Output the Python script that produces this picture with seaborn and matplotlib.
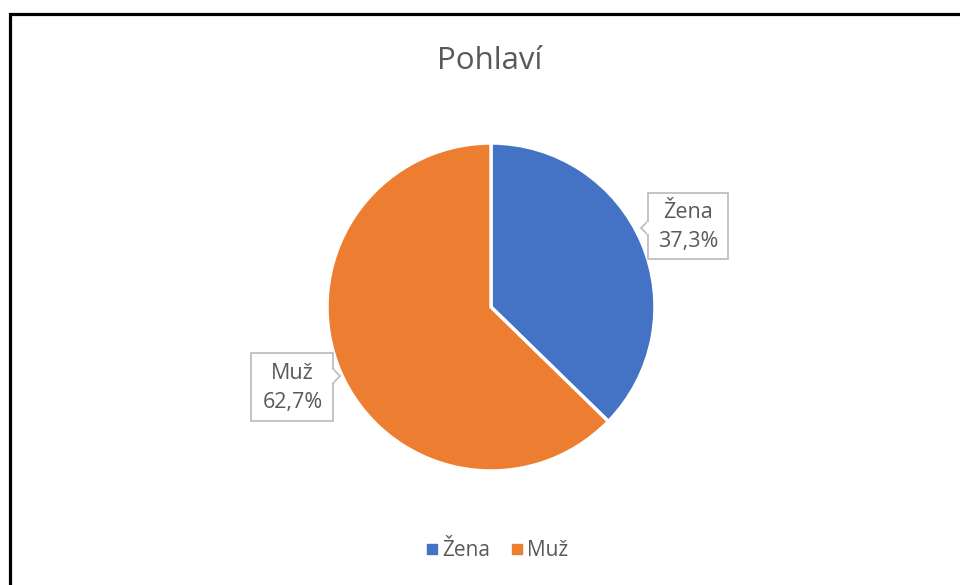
import matplotlib
matplotlib.use("Agg")
import matplotlib.pyplot as plt
import seaborn as sns
from matplotlib.patches import Rectangle, Polygon
from matplotlib.lines import Line2D

# ---- data ----
categories = ["Žena", "Muž"]
shares = [37.3, 62.7]
value_labels = ["37,3%", "62,7%"]
title = "Pohlaví"

sns.set_theme(style="white")
colors = ["#4472C4", "#ED7D31"]
sns.set_palette(colors)
plt.rcParams["font.family"] = ["Open Sans", "DejaVu Sans"]
text_color = "#595959"

W, H = 960, 585
fig = plt.figure(figsize=(W / 100, H / 100), dpi=100)
fig.patch.set_facecolor("white")

# pie axes: center (491, 307) px, radius 164 px
cx, cy, r = 491, 307, 164
ax = fig.add_axes([(cx - r) / W, (H - cy - r) / H, 2 * r / W, 2 * r / H])
palette = sns.color_palette(colors, len(categories))
wedges, _ = ax.pie(shares, colors=palette, startangle=90, counterclock=False,
                   radius=1.0, wedgeprops=dict(edgecolor="white", linewidth=2.5))
ax.set_xlim(-1, 1)
ax.set_ylim(-1, 1)
ax.set_aspect("equal")
ax.axis("off")

# title
fig.text(490 / W, 1 - 61 / H, title, ha="center", va="center",
         fontsize=22.5, color=text_color)

# data label callouts (box + pointer), positions in pixels
def px(x, y):
    return (x / W, 1 - y / H)

label_boxes = [
    # (left, top, right, bottom, pointer side, pointer y, pointer tip x)
    (648, 193, 728, 259, "left", 228, 641),
    (251, 353, 333, 421, "right", 376, 340),
]
for (l, t, rr, b, side, py, tipx), cat, lab in zip(label_boxes, categories, value_labels):
    rect = Rectangle(px(l, b), (rr - l) / W, (b - t) / H, transform=fig.transFigure,
                     facecolor="white", edgecolor="#BFBFBF", linewidth=1.3, zorder=5)
    fig.patches.append(rect)
    edge = l if side == "left" else rr
    tri = Polygon([px(edge, py - 7), px(tipx, py), px(edge, py + 7)],
                  closed=False, transform=fig.transFigure, facecolor="white",
                  edgecolor="#BFBFBF", linewidth=1.3, zorder=6)
    fig.patches.append(tri)
    cover = Rectangle(px(edge - 1, py + 6), 2 / W, 12 / H, transform=fig.transFigure,
                      facecolor="white", edgecolor="none", zorder=7)
    fig.patches.append(cover)
    fig.text((l + rr) / 2 / W + 0.5 / W, 1 - ((t + b) / 2 + 1) / H, f"{cat}\n{lab}", ha="center",
             va="center", fontsize=15.5, color=text_color, linespacing=1.45, zorder=8)

# legend
handles = [Line2D([0], [0], marker="s", linestyle="none", markersize=7,
                  markerfacecolor=c, markeredgecolor=c) for c in palette]
leg = fig.legend(handles, categories, loc="center", bbox_to_anchor=px(497, 551),
                 ncol=2, frameon=False, fontsize=15, handletextpad=0.2,
                 columnspacing=1.0, handlelength=0.6, labelcolor=text_color)

# outer black frame (partially cropped like the reference)
frame = Rectangle(px(9.5, 600), (W + 20) / W, (600 - 14) / H, transform=fig.transFigure,
                  facecolor="none", edgecolor="black", linewidth=2.3, zorder=10)
fig.patches.append(frame)

fig.savefig("out.png", dpi=100, facecolor="white")
